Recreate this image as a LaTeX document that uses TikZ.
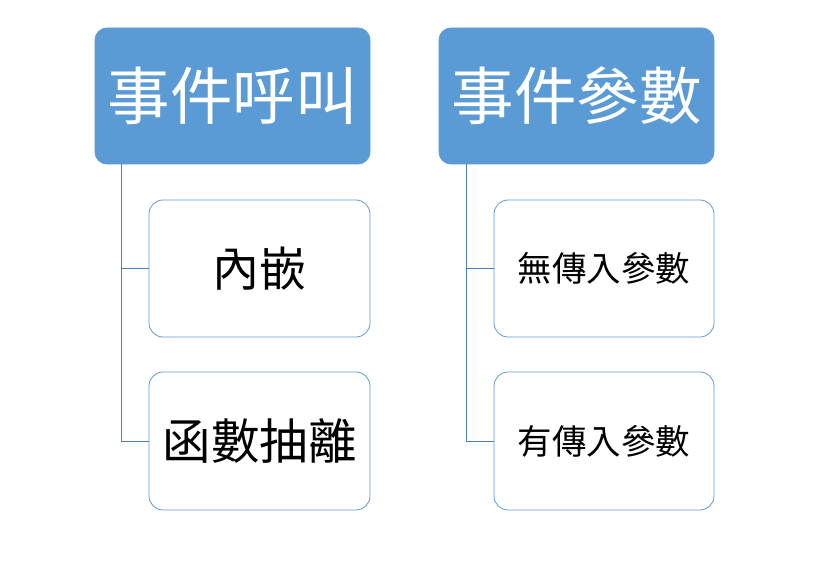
\documentclass[tikz,border=0pt]{standalone}
\usepackage{fontspec}
\newfontfamily\cjk{Noto Sans CJK TC}
\definecolor{hdrblue}{HTML}{5B9BD5}
\definecolor{lineblue}{HTML}{4A7EBB}
\begin{document}
\begin{tikzpicture}[x=1pt,y=-1pt,
  header/.style={draw=hdrblue,fill=hdrblue,rounded corners=12pt,line width=0.8pt},
  child/.style={draw=hdrblue,fill=white,rounded corners=14pt,line width=0.8pt},
  conn/.style={draw=lineblue,line width=0.8pt},
  htext/.style={text=white,font=\cjk\fontsize{62.5}{68}\selectfont,inner sep=0pt},
  ctext/.style={text=black,inner sep=0pt}]
\useasboundingbox (0,0) rectangle (840,588);
% headers
\draw[header] (95,28) rectangle (370,164);
\node[htext] (h1) at (232.5,96) {事件呼叫};
\draw[header] (439,28) rectangle (714,164);
\node[htext] (h2) at (576.5,96) {事件參數};
% children left
\draw[child] (149,200) rectangle (370,337);
\node[ctext,font=\cjk\fontsize{47}{52}\selectfont] (c1) at (259.5,268.5) {內嵌};
\draw[child] (149,372) rectangle (370,510);
\node[ctext,font=\cjk\fontsize{48.5}{54}\selectfont] (c2) at (259.5,441) {函數抽離};
% children right
\draw[child] (494,200) rectangle (714,337);
\node[ctext,font=\cjk\fontsize{34.5}{40}\selectfont] (c3) at (604,268.5) {無傳入參數};
\draw[child] (494,372) rectangle (714,510);
\node[ctext,font=\cjk\fontsize{34.5}{40}\selectfont] (c4) at (604,441) {有傳入參數};
% anchor coordinates
\coordinate (l0) at (121,164);
\coordinate (l1) at (149,268.5);
\coordinate (l2) at (149,441);
\coordinate (r0) at (466,164);
\coordinate (r1) at (494,268.5);
\coordinate (r2) at (494,441);
% connectors
\draw[conn] (l0) |- (l1);
\draw[conn] (l0) |- (l2);
\draw[conn] (r0) |- (r1);
\draw[conn] (r0) |- (r2);
\end{tikzpicture}
\end{document}
